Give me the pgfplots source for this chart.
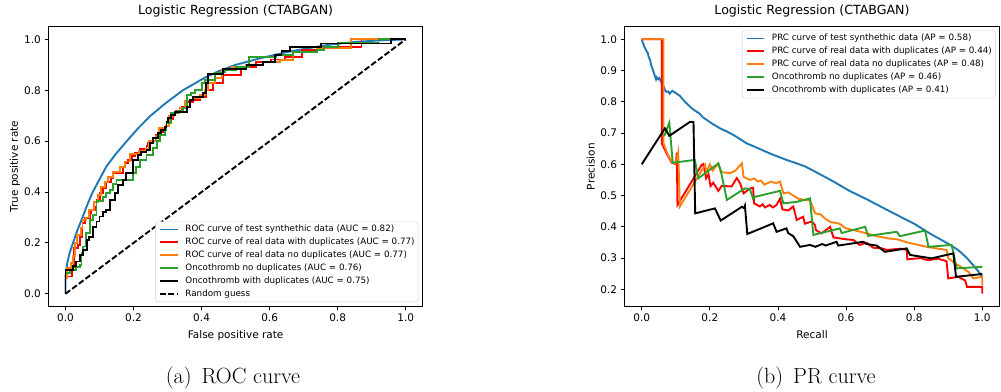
\documentclass[border=0pt]{standalone}
\usepackage{fontspec}
\usepackage{pgfplots}
\pgfplotsset{compat=1.18}
\newfontfamily\dejavu{DejaVu Sans}

\definecolor{mplblue}{HTML}{1F77B4}
\definecolor{mplorange}{HTML}{FF7F0E}
\definecolor{mplgreen}{HTML}{2CA02C}

\pgfplotsset{
  mplaxis/.style={
    scale only axis,
    height=279.8pt,
    axis line style={line width=0.9pt},
    tick align=outside,
    tick pos=left,
    major tick length=3.7pt,
    every tick/.style={black, line width=0.9pt},
    ticklabel style={font=\dejavu\fontsize{10.5}{12}\selectfont, inner sep=0pt},
    xticklabel shift=3.7pt,
    yticklabel shift=3.7pt,
    label style={font=\dejavu\fontsize{10.5}{12}\selectfont, inner sep=0pt},
    title style={font=\dejavu\fontsize{12.6}{14}\selectfont, inner sep=0pt,
      at={(axis description cs:0.5,1.0229)}, anchor=base},
    xlabel style={at={(axis description cs:0.5,-0.1154)}, anchor=base},
    legend cell align=left,
    legend style={
      font=\dejavu\fontsize{8.75}{10}\selectfont,
      draw=black!18, rounded corners=2.5pt, fill=white,
      inner xsep=3.5pt, inner ysep=3.5pt,
      row sep=4.38pt, column sep=7pt,
      nodes={inner sep=0pt, text height=6.4pt, text depth=2.15pt},
    },
    legend image code/.code={\draw[##1, rounded corners=0pt] (0pt,0pt) -- (17.5pt,0pt);},
  },
  curve/.style={line width=1.9pt, color=#1},
}

\begin{document}
\begin{tikzpicture}
\useasboundingbox (0,0) rectangle (1001pt,391pt);

% ---------------- ROC curves ----------------
\begin{axis}[mplaxis,
  at={(48.5pt,84.5pt)}, anchor=south west,
  width=374.2pt,
  xmin=-0.05, xmax=1.05, ymin=-0.05, ymax=1.05,
  xtick={0,0.2,0.4,0.6,0.8,1.0},
  xticklabels={0.0,0.2,0.4,0.6,0.8,1.0},
  ytick={0,0.2,0.4,0.6,0.8,1.0},
  yticklabels={0.0,0.2,0.4,0.6,0.8,1.0},
  title={Logistic Regression (CTABGAN)},
  xlabel={False positive rate},
  ylabel={True positive rate},
  ylabel style={at={(axis description cs:-0.0820,0.5)}, anchor=base},
  legend style={at={(axis description cs:1,0)}, anchor=south east,
    xshift=-4.4pt, yshift=4.4pt},
]
% empty placeholder so that the curves start with a fresh graphics state
\addplot[draw=none, forget plot] coordinates {(0,0)};

\addplot[curve=mplblue] coordinates {
(0,0) (0,0.068) (0.005,0.12) (0.012,0.16) (0.022,0.2) (0.035,0.25)
(0.05,0.3) (0.064,0.35) (0.08,0.4) (0.1,0.45) (0.12,0.5) (0.148,0.55)
(0.18,0.6) (0.213,0.65) (0.25,0.7) (0.295,0.75) (0.345,0.8) (0.41,0.85)
(0.45,0.875) (0.5,0.9) (0.57,0.925) (0.65,0.95) (0.72,0.967) (0.78,0.98)
(0.85,0.99) (0.92,0.996) (1,1)
};
\addlegendentry{ROC curve of test synthethic data (AUC = 0.82)}

\addplot[curve=red, const plot] coordinates {
(0,0) (0,0.068) (0.02,0.107) (0.025,0.179) (0.037,0.192) (0.042,0.225)
(0.05,0.277) (0.057,0.297) (0.071,0.317) (0.076,0.33) (0.086,0.343)
(0.091,0.369) (0.101,0.395) (0.111,0.415) (0.12,0.441) (0.135,0.454)
(0.14,0.474) (0.169,0.5) (0.175,0.513) (0.184,0.526) (0.195,0.54)
(0.204,0.555) (0.218,0.568) (0.238,0.58) (0.243,0.594) (0.25,0.6)
(0.258,0.611) (0.265,0.625) (0.277,0.637) (0.287,0.645) (0.297,0.677)
(0.307,0.686) (0.316,0.709) (0.326,0.72) (0.341,0.736) (0.356,0.755)
(0.375,0.762) (0.395,0.775) (0.414,0.801) (0.434,0.827) (0.463,0.86)
(0.517,0.892) (0.561,0.912) (0.605,0.921) (0.645,0.932) (0.694,0.958)
(0.743,0.971) (0.87,1.0) (1,1)
};
\addlegendentry{ROC curve of real data with duplicates (AUC = 0.77)}

\addplot[curve=mplorange, const plot] coordinates {
(0,0) (0,0.06) (0.005,0.1) (0.015,0.12) (0.022,0.15) (0.028,0.2)
(0.035,0.23) (0.045,0.26) (0.05,0.29) (0.06,0.3) (0.07,0.33)
(0.085,0.36) (0.095,0.39) (0.105,0.42) (0.115,0.44) (0.125,0.46)
(0.14,0.48) (0.16,0.5) (0.175,0.52) (0.19,0.55) (0.215,0.56)
(0.235,0.57) (0.245,0.6) (0.265,0.62) (0.275,0.65) (0.295,0.66)
(0.305,0.7) (0.32,0.71) (0.335,0.73) (0.35,0.76) (0.375,0.77)
(0.395,0.78) (0.41,0.8) (0.42,0.83) (0.44,0.85) (0.46,0.88)
(0.49,0.89) (0.53,0.9) (0.58,0.91) (0.63,0.92) (0.67,0.95)
(0.74,0.965) (0.84,1.0) (1,1)
};
\addlegendentry{ROC curve of real data no duplicates (AUC = 0.77)}

\addplot[curve=mplgreen, const plot] coordinates {
(0,0) (0,0.081) (0.013,0.094) (0.032,0.107) (0.042,0.114) (0.047,0.16)
(0.052,0.186) (0.06,0.24) (0.071,0.291) (0.081,0.31) (0.091,0.363)
(0.111,0.382) (0.12,0.395) (0.13,0.408) (0.14,0.43) (0.15,0.448)
(0.199,0.474) (0.208,0.5) (0.218,0.526) (0.238,0.546) (0.258,0.572)
(0.268,0.6) (0.277,0.624) (0.292,0.644) (0.297,0.67) (0.311,0.709)
(0.33,0.72) (0.346,0.729) (0.356,0.781) (0.37,0.79) (0.38,0.8)
(0.4,0.83) (0.41,0.84) (0.44,0.87) (0.47,0.88) (0.5,0.89)
(0.54,0.93) (0.62,0.94) (0.67,0.95) (0.74,0.96) (0.76,0.97)
(0.8,0.985) (0.92,1.0) (1,1)
};
\addlegendentry{Oncothromb no duplicates (AUC = 0.76)}

\addplot[curve=black, const plot] coordinates {
(0,0) (0,0.092) (0.022,0.11) (0.032,0.127) (0.042,0.153) (0.052,0.173)
(0.062,0.212) (0.07,0.225) (0.081,0.264) (0.091,0.284) (0.1,0.304)
(0.111,0.323) (0.12,0.33) (0.13,0.369) (0.145,0.395) (0.155,0.428)
(0.17,0.448) (0.179,0.474) (0.199,0.526) (0.214,0.546) (0.223,0.559)
(0.238,0.565) (0.248,0.592) (0.258,0.611) (0.272,0.631) (0.282,0.644)
(0.292,0.657) (0.297,0.677) (0.302,0.69) (0.311,0.703) (0.321,0.716)
(0.356,0.736) (0.365,0.762) (0.375,0.775) (0.404,0.79) (0.414,0.827)
(0.419,0.864) (0.463,0.884) (0.532,0.899) (0.581,0.912) (0.615,0.938)
(0.635,0.955) (0.659,0.971) (0.752,0.984) (0.958,1.0) (1,1)
};
\addlegendentry{Oncothromb with duplicates (AUC = 0.75)}

\addplot[curve=black, dash pattern=on 5.8pt off 2.5pt] coordinates {(0,0) (1,1)};
\addlegendentry{Random guess}
\end{axis}

% ---------------- Precision-recall curves ----------------
\begin{axis}[mplaxis,
  at={(624.7pt,84.5pt)}, anchor=south west,
  width=374.6pt,
  xmin=-0.05, xmax=1.05, ymin=0.145, ymax=1.0403,
  xtick={0,0.2,0.4,0.6,0.8,1.0},
  xticklabels={0.0,0.2,0.4,0.6,0.8,1.0},
  ytick={0.2,0.3,0.4,0.5,0.6,0.7,0.8,0.9,1.0},
  yticklabels={0.2,0.3,0.4,0.5,0.6,0.7,0.8,0.9,1.0},
  title={Logistic Regression (CTABGAN)},
  xlabel={Recall},
  ylabel={Precision},
  ylabel style={at={(axis description cs:-0.0806,0.5)}, anchor=base},
  legend style={at={(axis description cs:1,1)}, anchor=north east,
    xshift=-3.8pt, yshift=-3.8pt},
]
% empty placeholder so that the curves start with a fresh graphics state
\addplot[draw=none, forget plot] coordinates {(0,1)};

\addplot[curve=mplblue] coordinates {
(0,1.0) (0.003,0.99) (0.005,0.985) (0.008,0.975) (0.01,0.971) (0.013,0.965)
(0.015,0.96) (0.018,0.956) (0.02,0.945) (0.024,0.935) (0.029,0.913)
(0.032,0.905) (0.035,0.895) (0.039,0.881) (0.042,0.872) (0.044,0.878)
(0.047,0.873) (0.049,0.872) (0.052,0.876) (0.055,0.868) (0.059,0.859)
(0.064,0.85) (0.068,0.838) (0.072,0.832) (0.078,0.833) (0.082,0.826)
(0.085,0.83) (0.09,0.835) (0.093,0.833) (0.1,0.828) (0.112,0.819)
(0.122,0.806) (0.132,0.795) (0.145,0.781) (0.156,0.772) (0.17,0.762)
(0.18,0.75) (0.191,0.742) (0.21,0.728) (0.23,0.715) (0.25,0.705)
(0.269,0.694) (0.29,0.68) (0.308,0.667) (0.33,0.657) (0.357,0.644)
(0.38,0.633) (0.406,0.622) (0.43,0.612) (0.455,0.603) (0.48,0.593)
(0.503,0.58) (0.563,0.545) (0.61,0.515) (0.661,0.488) (0.71,0.46)
(0.758,0.433) (0.8,0.41) (0.85,0.376) (0.9,0.346) (0.93,0.325)
(0.955,0.3) (0.975,0.275) (0.99,0.255) (1.0,0.24)
};
\addlegendentry{PRC curve of test synthethic data (AP = 0.58)}

\addplot[curve=red] coordinates {
(0,1.0) (0.059,1.0) (0.059,0.667) (0.073,0.635) (0.088,0.605) (0.1,0.601)
(0.103,0.637) (0.105,0.47) (0.176,0.598) (0.181,0.601) (0.189,0.555)
(0.196,0.569) (0.202,0.53) (0.21,0.541) (0.225,0.515) (0.235,0.531)
(0.264,0.529) (0.279,0.556) (0.289,0.539) (0.299,0.507) (0.318,0.523)
(0.327,0.525) (0.33,0.475) (0.347,0.465) (0.355,0.472) (0.362,0.462)
(0.376,0.47) (0.385,0.462) (0.396,0.47) (0.406,0.49) (0.413,0.456)
(0.43,0.452) (0.445,0.465) (0.455,0.422) (0.474,0.432) (0.479,0.41)
(0.499,0.417) (0.509,0.406) (0.511,0.39) (0.528,0.379) (0.553,0.4)
(0.563,0.366) (0.6,0.36) (0.621,0.358) (0.64,0.342) (0.66,0.349)
(0.68,0.333) (0.705,0.331) (0.72,0.326) (0.76,0.33) (0.778,0.326)
(0.78,0.296) (0.82,0.3) (0.84,0.293) (0.87,0.298) (0.895,0.29)
(0.9,0.235) (0.93,0.24) (0.95,0.228) (0.955,0.208) (1.0,0.208) (1.0,0.186)
};
\addlegendentry{PRC curve of real data with duplicates (AP = 0.44)}

\addplot[curve=mplorange] coordinates {
(0,1.0) (0.064,1.0) (0.064,0.667) (0.075,0.635) (0.09,0.605) (0.1,0.603)
(0.107,0.638) (0.112,0.465) (0.186,0.598) (0.19,0.575) (0.2,0.6)
(0.208,0.58) (0.225,0.603) (0.232,0.575) (0.26,0.572) (0.275,0.58)
(0.294,0.603) (0.299,0.56) (0.318,0.55) (0.33,0.555) (0.34,0.545)
(0.35,0.548) (0.36,0.535) (0.38,0.545) (0.395,0.539) (0.406,0.545)
(0.416,0.507) (0.43,0.51) (0.445,0.5) (0.46,0.49) (0.48,0.485)
(0.494,0.486) (0.509,0.443) (0.525,0.44) (0.54,0.425) (0.553,0.416)
(0.58,0.41) (0.6,0.395) (0.62,0.39) (0.661,0.379) (0.69,0.37)
(0.724,0.363) (0.75,0.36) (0.78,0.35) (0.8,0.345) (0.837,0.336)
(0.87,0.33) (0.895,0.326) (0.9,0.3) (0.92,0.283) (0.94,0.27)
(0.96,0.255) (0.974,0.235) (1.0,0.24) (1.0,0.213)
};
\addlegendentry{PRC curve of real data no duplicates (AP = 0.48)}

\addplot[curve=mplgreen] coordinates {
(0.066,0.69) (0.081,0.733) (0.091,0.605) (0.156,0.614) (0.166,0.555)
(0.225,0.603) (0.232,0.58) (0.25,0.486) (0.303,0.523) (0.318,0.52)
(0.327,0.49) (0.333,0.496) (0.406,0.515) (0.416,0.475) (0.455,0.48)
(0.494,0.491) (0.504,0.374) (0.582,0.395) (0.587,0.38) (0.656,0.4)
(0.665,0.371) (0.749,0.384) (0.758,0.37) (0.832,0.388) (0.842,0.336)
(0.91,0.342) (0.925,0.267) (1.0,0.272)
};
\addlegendentry{Oncothromb no duplicates (AP = 0.46)}

\addplot[curve=black] coordinates {
(0,0.6) (0.068,0.715) (0.081,0.691) (0.142,0.736) (0.152,0.735)
(0.157,0.443) (0.215,0.459) (0.232,0.42) (0.294,0.464) (0.3,0.46)
(0.303,0.468) (0.31,0.377) (0.386,0.411) (0.396,0.384) (0.425,0.395)
(0.43,0.38) (0.445,0.37) (0.465,0.336) (0.494,0.342) (0.51,0.336)
(0.53,0.345) (0.54,0.34) (0.572,0.352) (0.577,0.34) (0.651,0.352)
(0.66,0.345) (0.69,0.34) (0.714,0.32) (0.778,0.331) (0.788,0.31)
(0.851,0.299) (0.915,0.315) (0.923,0.24) (1.0,0.249)
};
\addlegendentry{Oncothromb with duplicates (AP = 0.41)}
\end{axis}

% sub-figure captions
\node[font=\fontsize{22}{26}\selectfont, anchor=base] at (233pt,8pt) {(a)\hspace{10pt}ROC curve};
\node[font=\fontsize{22}{26}\selectfont, anchor=base] at (816pt,8pt) {(b)\hspace{10pt}PR curve};
\end{tikzpicture}
\end{document}
